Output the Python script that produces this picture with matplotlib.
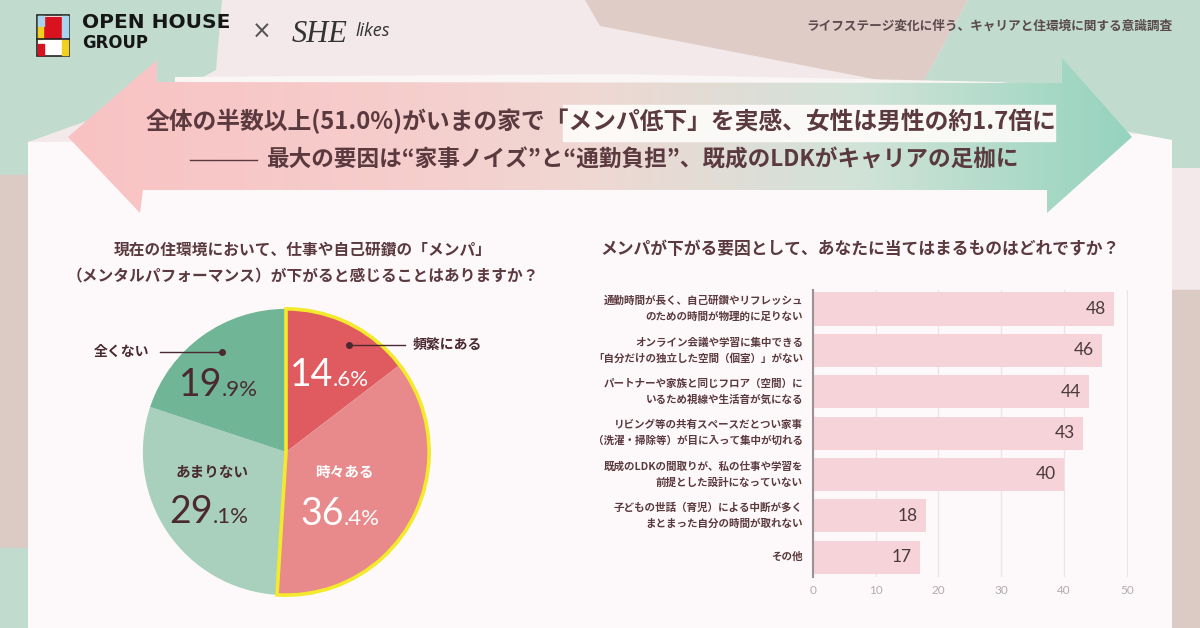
import matplotlib.pyplot as plt
import matplotlib.patches as mpatches
from matplotlib.colors import LinearSegmentedColormap
import numpy as np

plt.rcParams['font.family'] = ['Noto Sans CJK JP', 'DejaVu Sans']

# pie: 現在の住環境で「メンパ」が下がると感じるか
pie_labels = ["頻繁にある", "時々ある", "あまりない", "全くない"]
pie_values = [14.6, 36.4, 29.1, 19.9]
pie_colors = ["#df5b60", "#e8898c", "#a9d0bd", "#70b595"]

# bars: メンパが下がる要因
bar_labels = [
    ("通勤時間が長く、自己研鑽やリフレッシュ", "のための時間が物理的に足りない"),
    ("オンライン会議や学習に集中できる", "「自分だけの独立した空間（個室）」がない"),
    ("パートナーや家族と同じフロア（空間）に", "いるため視線や生活音が気になる"),
    ("リビング等の共有スペースだとつい家事", "（洗濯・掃除等）が目に入って集中が切れる"),
    ("既成のLDKの間取りが、私の仕事や学習を", "前提とした設計になっていない"),
    ("子どもの世話（育児）による中断が多く", "まとまった自分の時間が取れない"),
    ("その他",),
]
bar_values = [48, 46, 44, 43, 40, 18, 17]
bar_ticks = [0, 10, 20, 30, 40, 50]

TEXT = "#5b3a3f"
DARK = "#4a2a30"
W, H = 1200, 628


def frac(x0, y0, x1, y1):
    return [x0 / W, 1 - y1 / H, (x1 - x0) / W, (y1 - y0) / H]


fig = plt.figure(figsize=(12, 6.28), dpi=100)
renderer = fig.canvas.get_renderer()


def fit_text(ax, x, y, s, width, size=12, **kw):
    t = ax.text(x, y, s, fontsize=size, **kw)
    w = t.get_window_extent(renderer).width
    t.set_fontsize(size * width / w)
    return t


def poly(ax, pts, color, z=1, **kw):
    p = mpatches.Polygon(pts, closed=True, facecolor=color, edgecolor="none", zorder=z, **kw)
    ax.add_patch(p)
    return p


# ---- background ----
bg = fig.add_axes([0, 0, 1, 1], zorder=0)
bg.axis("off")
bg.add_patch(mpatches.Rectangle((0, 0), W, H, color="#f3e9ea", zorder=0))
poly(bg, [(0, 0), (222, 0), (216, 70), (190, 84), (28, 142), (28, 175), (0, 175)], "#c1dccf")
poly(bg, [(585, 0), (968, 0), (920, 88), (600, 26)], "#dfccc7")
poly(bg, [(968, 0), (1200, 0), (1200, 168), (1172, 168), (1140, 134), (920, 88)], "#c1dccf")
bg.add_patch(mpatches.Rectangle((1172, 290), 28, 338, color="#dccac4", zorder=1))
bg.add_patch(mpatches.Rectangle((0, 175), 28, 373, color="#dccac4", zorder=1))
bg.add_patch(mpatches.Rectangle((0, 548), 28, 80, color="#c1dccf", zorder=1))
poly(bg, [(175, 77), (620, 74), (1000, 82), (1040, 86), (1040, 90), (175, 90)], "#fbf6f6", z=2)
poly(bg, [(28, 142), (1140, 134), (1172, 140), (1172, 628), (28, 628)], "#fdf9fb", z=2)

# gradient double arrow
arrow_pts = [(68, 137), (157, 60), (157, 82), (1062, 83), (1062, 58), (1132, 137),
             (1047, 213), (1047, 190), (143, 190), (140, 213)]
arrow = poly(bg, arrow_pts, "none", z=3)
cmap = LinearSegmentedColormap.from_list(
    "arr", [(0, "#f9c2c3"), (0.3, "#f6cdcc"), (0.5, "#efd8d3"), (0.75, "#d0e3d8"), (1, "#95d3be")])
im = bg.imshow(np.linspace(0, 1, 256).reshape(1, -1), cmap=cmap,
               extent=(68, 1132, 213, 58), aspect="auto", zorder=3)
im.set_clip_path(arrow)
bg.add_patch(mpatches.Rectangle((563, 105), 492, 36, color="#fdfbf9", alpha=0.95, zorder=4))
bg.set_xlim(0, W)
bg.set_ylim(H, 0)

# ---- overlay for text ----
ov = fig.add_axes([0, 0, 1, 1], zorder=5)
ov.set_xlim(0, W)
ov.set_ylim(H, 0)
ov.axis("off")
ov.patch.set_alpha(0)

# logo
ov.add_patch(mpatches.Rectangle((37, 15), 32, 41, facecolor="white", edgecolor="#222", lw=1.2))
ov.add_patch(mpatches.Rectangle((44, 17), 17, 21, color="#d9121f"))
ov.add_patch(mpatches.Rectangle((62, 16), 6, 22, color="#a8d4ee"))
ov.add_patch(mpatches.Rectangle((38, 16), 6, 10, color="#a8d4ee"))
ov.add_patch(mpatches.Rectangle((38, 27), 5, 12, color="#f2d022"))
ov.add_patch(mpatches.Rectangle((38, 44), 6, 11, color="#d9121f"))
ov.add_patch(mpatches.Rectangle((62, 40), 6, 15, color="#f2d022"))
ov.plot([37, 69], [39, 39], color="#222", lw=1.2)
fit_text(ov, 82, 22, "OPEN HOUSE", 148, family="DejaVu Sans", weight="bold",
         color="#161616", va="center")
fit_text(ov, 82, 43, "GROUP", 66, family="DejaVu Sans", weight="bold",
         color="#161616", va="center")
ov.text(262, 32, "×", fontsize=17, color="#555", ha="center", va="center", family="DejaVu Sans")
ov.text(292, 34, "SHE", fontsize=22, style="italic", family="Liberation Serif",
        color="#333", va="center")
ov.text(355, 31, "likes", fontsize=13, style="italic", family="Open Sans", color="#333", va="center")
fit_text(ov, 1172, 26, "ライフステージ変化に伴う、キャリアと住環境に関する意識調査", 367,
         weight="bold", color="#5a4a4c", ha="right", va="center")

# headline
fit_text(ov, 601, 121, "全体の半数以上(51.0%)がいまの家で「メンパ低下」を実感、女性は男性の約1.7倍に",
         910, weight="bold", color=TEXT, ha="center", va="center")
ov.plot([190, 257], [160, 160], color=TEXT, lw=1)
fit_text(ov, 266, 160, "最大の要因は“家事ノイズ”と“通勤負担”、既成のLDKがキャリアの足枷に",
         750, weight="bold", color=TEXT, ha="left", va="center")

# question titles
q2 = fit_text(ov, 303, 276, "（メンタルパフォーマンス）が下がると感じることはありますか？", 470,
              weight="bold", color=TEXT, ha="center", va="center")
ov.text(303, 250, "現在の住環境において、仕事や自己研鑽の「メンパ」", fontsize=q2.get_fontsize(),
        weight="bold", color=TEXT, ha="center", va="center")
fit_text(ov, 600, 249, "メンパが下がる要因として、あなたに当てはまるものはどれですか？", 520,
         weight="bold", color=TEXT, ha="left", va="center")

# ---- pie ----
pax = fig.add_axes(frac(140, 306, 432, 598), zorder=2)
pax.pie(pie_values, colors=pie_colors, startangle=90, counterclock=False,
        wedgeprops=dict(linewidth=0))
upper = pie_values[0] + pie_values[1]
outline, _ = pax.pie([upper, 100 - upper], startangle=90, counterclock=False,
                     wedgeprops=dict(fill=False, linewidth=0))
outline[0].set_edgecolor("#f3ea2b")
outline[0].set_linewidth(2.6)
outline[0].set_joinstyle("miter")
pax.set_xlim(-1.02, 1.02)
pax.set_ylim(-1.02, 1.02)


def pct(x, y, v, color):
    whole, dec = f"{v:.1f}".split(".")
    ov.text(x, y, whole, ha="right", va="baseline", fontsize=27, color=color, family="Lato")
    ov.text(x, y, "." + dec + "%", ha="left", va="baseline", fontsize=16, color=color, family="Lato")


pct(333, 386, pie_values[0], "white")
pct(344, 525, pie_values[1], "white")
pct(213, 523, pie_values[2], DARK)
pct(222, 396, pie_values[3], DARK)
ov.text(344, 472, pie_labels[1], fontsize=10.5, weight="bold", color="white", ha="center", va="center")
ov.text(212, 472, pie_labels[2], fontsize=10.5, weight="bold", color=DARK, ha="center", va="center")
ov.plot([160, 222], [352, 352], color=DARK, lw=1)
ov.plot([222], [352], "o", color=DARK, ms=4)
ov.text(122, 352, pie_labels[3], fontsize=10, weight="bold", color=DARK, ha="center", va="center")
ov.plot([349, 405], [345, 345], color=DARK, lw=1)
ov.plot([349], [345], "o", color=DARK, ms=4)
ov.text(413, 345, pie_labels[0], fontsize=10, weight="bold", color=DARK, ha="left", va="center")

# ---- bars ----
ax = fig.add_axes(frac(813, 290, 1128, 577), zorder=2)
ax.patch.set_alpha(0)
y = np.arange(len(bar_values))
ax.barh(y, bar_values, height=0.8, color="#f5d3d8", zorder=2)
for i, v in enumerate(bar_values):
    ax.text(v - 1.3, i, str(v), ha="right", va="center", fontsize=12.5,
            family="Lato", color="#4a3a3e", zorder=3)
for i, lines in enumerate(bar_labels):
    if len(lines) == 1:
        ax.text(-1.6, i, lines[0], ha="right", va="center", fontsize=7.6,
                weight="bold", color=TEXT)
    else:
        ax.text(-1.6, i - 0.19, lines[0], ha="right", va="center", fontsize=7.6,
                weight="bold", color=TEXT)
        ax.text(-1.6, i + 0.19, lines[1], ha="right", va="center", fontsize=7.6,
                weight="bold", color=TEXT)
ax.set_xlim(0, 50.2)
ax.set_ylim(6.48, -0.46)
ax.set_xticks(bar_ticks)
ax.set_xticklabels([str(t) for t in bar_ticks], family="Lato", fontsize=8.5, color="#b3aaae")
ax.set_yticks([])
ax.tick_params(axis="x", length=0, pad=6)
ax.xaxis.grid(True, color="#ece3e6", lw=1, zorder=0)
ax.set_axisbelow(True)
for s in ["top", "right", "bottom"]:
    ax.spines[s].set_visible(False)
ax.spines["left"].set_color("#9b9093")
ax.spines["left"].set_linewidth(1.5)

fig.savefig("out.png", dpi=100)
